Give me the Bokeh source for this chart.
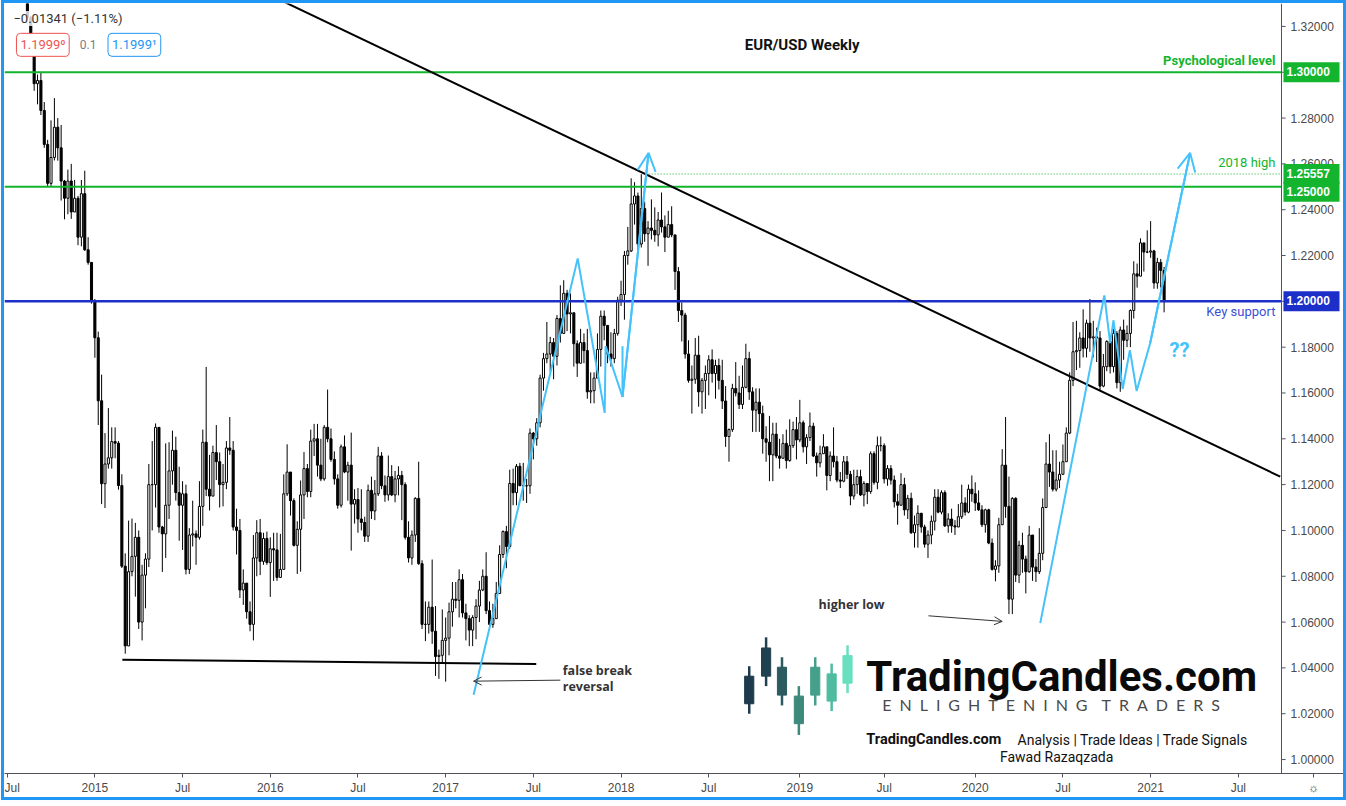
import pandas as pd
from bokeh.plotting import figure
from bokeh.models import (Range1d, FixedTicker, CustomJSTickFormatter, NumeralTickFormatter,
                          Span, Label, Arrow, OpenHead, ColumnDataSource)
from bokeh.embed import file_html
from bokeh.resources import INLINE

# ---------------- data: EUR/USD weekly candles ----------------
first_week = "2014-08-18"
first_open = 1.3390

closes = [
    # 2014
    1.3240, 1.3131, 1.2950, 1.2964, 1.2833, 1.2685, 1.2515, 1.2628, 1.2760, 1.2670,
    1.2525, 1.2450, 1.2525, 1.2390, 1.2450, 1.2280, 1.2470, 1.2225, 1.2170, 1.2000,
    # 2015
    1.1841, 1.1566, 1.1204, 1.1290, 1.1317, 1.1388, 1.1381, 1.1196, 1.0844, 1.0496,
    1.0820, 1.0887, 1.0970, 1.0600, 1.0805, 1.0875, 1.1200, 1.1200, 1.1450, 1.1015,
    1.0985, 1.1110, 1.1260, 1.1350, 1.1165, 1.1110, 1.1160, 1.0830, 1.0980, 1.0985,
    1.0970, 1.1105, 1.1385, 1.1180, 1.1150, 1.1340, 1.1300, 1.1200, 1.1210, 1.1360,
    1.1350, 1.1015, 1.1000, 1.0740, 1.0770, 1.0645, 1.0590, 1.0880, 1.0990, 1.0865,
    1.0965, 1.0860,
    # 2016
    1.0920, 1.0915, 1.0795, 1.0830, 1.1160, 1.1255, 1.1130, 1.0935, 1.1005, 1.1155,
    1.1270, 1.1170, 1.1390, 1.1400, 1.1285, 1.1225, 1.1450, 1.1400, 1.1310, 1.1225,
    1.1110, 1.1365, 1.1255, 1.1285, 1.1115, 1.1135, 1.1050, 1.1035, 1.0975, 1.1175,
    1.1085, 1.1160, 1.1325, 1.1195, 1.1155, 1.1235, 1.1155, 1.1225, 1.1240, 1.1200,
    1.0970, 1.0880, 1.0980, 1.1140, 1.0855, 1.0590, 1.0590, 1.0665, 1.0560, 1.0450,
    1.0455, 1.0520,
    # 2017
    1.0530, 1.0645, 1.0700, 1.0695, 1.0785, 1.0640, 1.0615, 1.0565, 1.0620, 1.0670,
    1.0740, 1.0800, 1.0650, 1.0590, 1.0615, 1.0725, 1.0895, 1.0995, 1.0930, 1.1205,
    1.1165, 1.1280, 1.1195, 1.1195, 1.1195, 1.1425, 1.1400, 1.1470, 1.1665, 1.1750,
    1.1770, 1.1820, 1.1760, 1.1925, 1.1860, 1.2035, 1.1945, 1.1950, 1.1815, 1.1730,
    1.1820, 1.1785, 1.1605, 1.1610, 1.1665, 1.1790, 1.1935, 1.1895, 1.1770, 1.1750,
    1.1860, 1.2005,
    # 2018
    1.2030, 1.2200, 1.2220, 1.2425, 1.2460, 1.2250, 1.2405, 1.2295, 1.2320, 1.2310,
    1.2290, 1.2355, 1.2325, 1.2280, 1.2335, 1.2290, 1.2130, 1.1960, 1.1940, 1.1770,
    1.1655, 1.1660, 1.1765, 1.1605, 1.1655, 1.1685, 1.1745, 1.1685, 1.1720, 1.1655,
    1.1565, 1.1410, 1.1440, 1.1620, 1.1600, 1.1550, 1.1625, 1.1750, 1.1605, 1.1525,
    1.1560, 1.1510, 1.1400, 1.1385, 1.1330, 1.1420, 1.1325, 1.1315, 1.1380, 1.1305,
    1.1370, 1.1440, 1.1395,
    # 2019
    1.1470, 1.1365, 1.1405, 1.1455, 1.1325, 1.1295, 1.1335, 1.1365, 1.1240, 1.1325,
    1.1300, 1.1220, 1.1215, 1.1300, 1.1245, 1.1150, 1.1200, 1.1235, 1.1155, 1.1205,
    1.1170, 1.1335, 1.1210, 1.1370, 1.1370, 1.1225, 1.1270, 1.1220, 1.1125, 1.1110,
    1.1200, 1.1090, 1.1140, 1.0990, 1.1025, 1.1075, 1.1015, 1.0940, 1.0980, 1.1040,
    1.1145, 1.1080, 1.1165, 1.1020, 1.1050, 1.1020, 1.1015, 1.1060, 1.1120, 1.1080,
    1.1180, 1.1160,
    # 2020
    1.1120, 1.1090, 1.1025, 1.1090, 1.0945, 1.0830, 1.0845, 1.1025, 1.1285, 1.1105,
    1.0700, 1.1140, 1.0805, 1.0935, 1.0875, 1.0820, 1.0980, 1.0840, 1.0820, 1.0900,
    1.1100, 1.1290, 1.1255, 1.1180, 1.1220, 1.1245, 1.1300, 1.1425, 1.1655, 1.1780,
    1.1785, 1.1840, 1.1795, 1.1905, 1.1840, 1.1845, 1.1840, 1.1630, 1.1715, 1.1825,
    1.1715, 1.1860, 1.1645, 1.1875, 1.1830, 1.1860, 1.1960, 1.2120, 1.2110, 1.2255,
    1.2215, 1.2215,
    # 2021
    1.2220, 1.2080, 1.2170, 1.2135, 1.1999,
]

highs = [
    # 2014
    1.3395, 1.3245, 1.3160, 1.2990, 1.3000, 1.2870, 1.2705, 1.2790, 1.2887, 1.2800,
    1.2770, 1.2530, 1.2575, 1.2600, 1.2530, 1.2460, 1.2530, 1.2570, 1.2280, 1.2170,
    # 2015
    1.2010, 1.1868, 1.1680, 1.1425, 1.1534, 1.1450, 1.1450, 1.1390, 1.1245, 1.0900,
    1.1043, 1.1052, 1.1033, 1.1000, 1.0850, 1.0900, 1.1290, 1.1390, 1.1467, 1.1440,
    1.1020, 1.1380, 1.1385, 1.1436, 1.1409, 1.1278, 1.1215, 1.1200, 1.1010, 1.1130,
    1.1000, 1.1215, 1.1440, 1.1714, 1.1330, 1.1370, 1.1460, 1.1340, 1.1290, 1.1390,
    1.1495, 1.1390, 1.1095, 1.1050, 1.0830, 1.0760, 1.0690, 1.0980, 1.1045, 1.1050,
    1.0990, 1.0995,
    # 2016
    1.0970, 1.0990, 1.0990, 1.0985, 1.1245, 1.1376, 1.1220, 1.1140, 1.1040, 1.1218,
    1.1342, 1.1290, 1.1440, 1.1465, 1.1465, 1.1400, 1.1460, 1.1615, 1.1445, 1.1345,
    1.1245, 1.1375, 1.1415, 1.1300, 1.1427, 1.1180, 1.1185, 1.1180, 1.1060, 1.1200,
    1.1235, 1.1220, 1.1365, 1.1342, 1.1240, 1.1327, 1.1285, 1.1260, 1.1280, 1.1260,
    1.1210, 1.1040, 1.1000, 1.1145, 1.1300, 1.0870, 1.0690, 1.0690, 1.0873, 1.0670,
    1.0480, 1.0655,
    # 2017
    1.0620, 1.0685, 1.0775, 1.0775, 1.0830, 1.0810, 1.0680, 1.0630, 1.0630, 1.0700,
    1.0780, 1.0830, 1.0905, 1.0690, 1.0680, 1.0775, 1.0935, 1.1000, 1.1020, 1.1265,
    1.1270, 1.1290, 1.1295, 1.1295, 1.1225, 1.1445, 1.1430, 1.1490, 1.1680, 1.1775,
    1.1910, 1.1845, 1.1840, 1.1940, 1.2070, 1.2092, 1.2050, 1.2035, 1.1945, 1.1830,
    1.1880, 1.1860, 1.1880, 1.1690, 1.1690, 1.1860, 1.1960, 1.1960, 1.1880, 1.1865,
    1.1880, 1.2020,
    # 2018
    1.2090, 1.2220, 1.2325, 1.2537, 1.2520, 1.2475, 1.2555, 1.2435, 1.2350, 1.2445,
    1.2410, 1.2390, 1.2475, 1.2375, 1.2395, 1.2415, 1.2290, 1.2150, 1.1995, 1.1950,
    1.1830, 1.1720, 1.1840, 1.1850, 1.1665, 1.1720, 1.1765, 1.1790, 1.1745, 1.1750,
    1.1745, 1.1630, 1.1445, 1.1640, 1.1735, 1.1675, 1.1720, 1.1815, 1.1780, 1.1625,
    1.1620, 1.1620, 1.1545, 1.1455, 1.1500, 1.1470, 1.1470, 1.1400, 1.1420, 1.1440,
    1.1485, 1.1475, 1.1495,
    # 2019
    1.1570, 1.1480, 1.1420, 1.1515, 1.1470, 1.1340, 1.1370, 1.1420, 1.1355, 1.1345,
    1.1450, 1.1325, 1.1255, 1.1325, 1.1325, 1.1260, 1.1265, 1.1265, 1.1265, 1.1215,
    1.1205, 1.1345, 1.1345, 1.1410, 1.1410, 1.1380, 1.1285, 1.1285, 1.1240, 1.1160,
    1.1250, 1.1230, 1.1155, 1.1165, 1.1065, 1.1110, 1.1075, 1.1025, 1.1000, 1.1065,
    1.1180, 1.1180, 1.1175, 1.1175, 1.1075, 1.1095, 1.1045, 1.1115, 1.1200, 1.1145,
    1.1200, 1.1240,
    # 2020
    1.1210, 1.1175, 1.1110, 1.1095, 1.1095, 1.0965, 1.0870, 1.1055, 1.1355, 1.1495,
    1.1235, 1.1145, 1.1145, 1.0955, 1.0990, 1.0890, 1.1020, 1.0980, 1.0875, 1.1010,
    1.1140, 1.1385, 1.1420, 1.1350, 1.1350, 1.1300, 1.1375, 1.1450, 1.1690, 1.1910,
    1.1915, 1.1865, 1.1965, 1.1920, 1.2010, 1.1915, 1.1885, 1.1870, 1.1770, 1.1830,
    1.1810, 1.1880, 1.1870, 1.1890, 1.1920, 1.1895, 1.1965, 1.2175, 1.2165, 1.2275,
    1.2250, 1.2310,
    # 2021
    1.2350, 1.2225, 1.2190, 1.2185, 1.2150,
]

lows = [
    # 2014
    1.3225, 1.3130, 1.2919, 1.2860, 1.2813, 1.2670, 1.2500, 1.2501, 1.2615, 1.2614,
    1.2440, 1.2358, 1.2380, 1.2360, 1.2390, 1.2245, 1.2240, 1.2220, 1.2160, 1.1990,
    # 2015
    1.1754, 1.1460, 1.1115, 1.1098, 1.1270, 1.1270, 1.1315, 1.1178, 1.0836, 1.0462,
    1.0520, 1.0800, 1.0711, 1.0570, 1.0520, 1.0660, 1.0840, 1.1000, 1.1100, 1.0990,
    1.0819, 1.0880, 1.1050, 1.1200, 1.1130, 1.0955, 1.0915, 1.0808, 1.0810, 1.0930,
    1.0850, 1.0960, 1.1020, 1.1150, 1.1087, 1.1150, 1.1220, 1.1100, 1.1105, 1.1180,
    1.1330, 1.1000, 1.0895, 1.0705, 1.0675, 1.0615, 1.0560, 1.0520, 1.0800, 1.0805,
    1.0850, 1.0850,
    # 2016
    1.0710, 1.0780, 1.0780, 1.0810, 1.0835, 1.1150, 1.1065, 1.0930, 1.0810, 1.0820,
    1.1050, 1.1145, 1.1145, 1.1325, 1.1235, 1.1215, 1.1217, 1.1385, 1.1300, 1.1200,
    1.1095, 1.1100, 1.1250, 1.1130, 1.0912, 1.1030, 1.0990, 1.1000, 1.0950, 1.0950,
    1.1050, 1.1045, 1.1150, 1.1180, 1.1125, 1.1130, 1.1150, 1.1123, 1.1153, 1.1045,
    1.0960, 1.0860, 1.0850, 1.0950, 1.0850, 1.0570, 1.0517, 1.0550, 1.0505, 1.0365,
    1.0352, 1.0420,
    # 2017
    1.0340, 1.0455, 1.0580, 1.0660, 1.0620, 1.0620, 1.0520, 1.0495, 1.0495, 1.0525,
    1.0600, 1.0735, 1.0635, 1.0570, 1.0575, 1.0640, 1.0820, 1.0880, 1.0835, 1.0920,
    1.1110, 1.1110, 1.1195, 1.1130, 1.1120, 1.1160, 1.1310, 1.1370, 1.1450, 1.1610,
    1.1730, 1.1690, 1.1660, 1.1720, 1.1820, 1.1860, 1.1870, 1.1860, 1.1715, 1.1670,
    1.1730, 1.1730, 1.1575, 1.1555, 1.1555, 1.1710, 1.1715, 1.1830, 1.1730, 1.1715,
    1.1730, 1.1850,
    # 2018
    1.1980, 1.1920, 1.2160, 1.2215, 1.2335, 1.2205, 1.2235, 1.2260, 1.2155, 1.2270,
    1.2260, 1.2240, 1.2300, 1.2215, 1.2300, 1.2280, 1.2050, 1.1910, 1.1825, 1.1750,
    1.1645, 1.1510, 1.1640, 1.1540, 1.1510, 1.1530, 1.1590, 1.1645, 1.1575, 1.1615,
    1.1530, 1.1365, 1.1300, 1.1430, 1.1585, 1.1530, 1.1530, 1.1620, 1.1570, 1.1430,
    1.1430, 1.1430, 1.1335, 1.1300, 1.1215, 1.1215, 1.1315, 1.1270, 1.1320, 1.1270,
    1.1300, 1.1360, 1.1310,
    # 2019
    1.1385, 1.1340, 1.1290, 1.1390, 1.1320, 1.1235, 1.1275, 1.1340, 1.1175, 1.1215,
    1.1275, 1.1210, 1.1185, 1.1210, 1.1225, 1.1110, 1.1135, 1.1160, 1.1150, 1.1105,
    1.1115, 1.1160, 1.1200, 1.1180, 1.1345, 1.1205, 1.1195, 1.1200, 1.1100, 1.1025,
    1.1110, 1.1065, 1.1050, 1.0985, 1.0925, 1.0925, 1.0990, 1.0925, 1.0880, 1.0940,
    1.1000, 1.1075, 1.1070, 1.1015, 1.0990, 1.0990, 1.0980, 1.1015, 1.1050, 1.1065,
    1.1075, 1.1125,
    # 2020
    1.1085, 1.1085, 1.1015, 1.0990, 1.0940, 1.0825, 1.0778, 1.0815, 1.1050, 1.1055,
    1.0635, 1.0635, 1.0775, 1.0770, 1.0815, 1.0725, 1.0815, 1.0780, 1.0775, 1.0810,
    1.0870, 1.1100, 1.1190, 1.1170, 1.1170, 1.1185, 1.1260, 1.1370, 1.1420, 1.1630,
    1.1700, 1.1710, 1.1755, 1.1755, 1.1780, 1.1755, 1.1735, 1.1610, 1.1625, 1.1695,
    1.1685, 1.1690, 1.1620, 1.1605, 1.1745, 1.1800, 1.1800, 1.1925, 1.2060, 1.2110,
    1.2130, 1.2210,
    # 2021
    1.2190, 1.2055, 1.2055, 1.2060, 1.1952,
]

# axis ticks / labels (last entry: the settings glyph of the corner cell)
x_tick_dates = ["2014-07-07", "2015-01-05", "2015-07-06", "2016-01-04", "2016-07-04",
                "2017-01-02", "2017-07-03", "2018-01-01", "2018-07-02", "2019-01-07",
                "2019-07-01", "2020-01-06", "2020-07-06", "2021-01-04", "2021-07-05",
                "2021-12-08"]
x_tick_labels = ["Jul", "2015", "Jul", "2016", "Jul", "2017", "Jul", "2018", "Jul", "2019",
                 "Jul", "2020", "Jul", "2021", "Jul", "\u263c"]
y_ticks = [1.00, 1.02, 1.04, 1.06, 1.08, 1.10, 1.12, 1.14, 1.16, 1.18, 1.20, 1.22,
           1.24, 1.26, 1.28, 1.30, 1.32]

# key levels
psych_level = 1.30
level_125 = 1.25
high_2018 = 1.25557
key_support = 1.20

# drawn annotations (date, price)
trend_dates = ["2015-12-14", "2021-09-30"]
trend_prices = [1.3357, 1.12348]
support_dates = ["2015-03-03", "2017-07-09"]
support_prices = [1.0436, 1.0417]
zz_left_dates = ["2017-03-01", "2017-10-03", "2017-11-28", "2017-11-30", "2018-01-04", "2018-02-27"]
zz_left_prices = [1.02826, 1.21870, 1.15130, 1.18043, 1.15826, 1.26478]
zz_left_spike_dates = ["2018-01-04", "2018-01-04"]
zz_left_spike_prices = [1.15826, 1.18043]
zz_right_dates = ["2020-05-20", "2020-09-30", "2020-10-12", "2020-10-19", "2020-11-07",
                  "2020-11-22", "2020-12-06", "2021-01-03", "2021-03-27"]
zz_right_prices = [1.05957, 1.20261, 1.18174, 1.19174, 1.16174, 1.17870, 1.16087,
                   1.18174, 1.26478]

# logo candles (decoration)
logo_dates = ["2018-09-24", "2018-10-29", "2018-12-01", "2019-01-05", "2019-02-08", "2019-03-14", "2019-04-16"]
logo_wick_top = [1.04074, 1.05335, 1.04465, 1.03204, 1.04465, 1.04187, 1.04987]
logo_wick_bot = [1.02000, 1.03204, 1.02361, 1.01074, 1.02361, 1.02117, 1.02900]
logo_body_top = [1.03639, 1.04870, 1.04030, 1.02770, 1.04030, 1.03739, 1.04535]
logo_body_bot = [1.02435, 1.03639, 1.02813, 1.01565, 1.02813, 1.02552, 1.03335]
logo_colors = ["#1d3b4c", "#1f4150", "#2b5a60", "#3d8a7b", "#45a08b", "#4fbca0", "#68dfbe"]

# ---------------- build ----------------
def ms(d):
    return pd.Timestamp(d).value / 1e6

DAY = 86400000.0
n = min(len(closes), len(highs), len(lows))
dates = pd.date_range(first_week, periods=n, freq="7D")
opens = [first_open] + closes[:n - 1]
hi = [max(h, o, c) for h, o, c in zip(highs[:n], opens, closes[:n])]
lo = [min(l, o, c) for l, o, c in zip(lows[:n], opens, closes[:n])]
x = [ms(d) for d in dates]
top = [max(o, c) for o, c in zip(opens, closes[:n])]
bot = [min(o, c) for o, c in zip(opens, closes[:n])]
up = [c >= o for o, c in zip(opens, closes[:n])]

src_up = ColumnDataSource(dict(x=[a for a, u in zip(x, up) if u],
                               top=[a for a, u in zip(top, up) if u],
                               bot=[a for a, u in zip(bot, up) if u]))
src_dn = ColumnDataSource(dict(x=[a for a, u in zip(x, up) if not u],
                               top=[a for a, u in zip(top, up) if not u],
                               bot=[a for a, u in zip(bot, up) if not u]))
src_w = ColumnDataSource(dict(x=x, hi=hi, lo=lo))

base = pd.Timestamp("2014-12-29")
x_start = ms(base - pd.Timedelta(days=180.55))
x_end = ms(base + pd.Timedelta(days=2598.3))      # frame runs under the price scale
x_sep = ms(base + pd.Timedelta(days=2469.6))      # chart / price-scale separator
x_box = ms(base + pd.Timedelta(days=2473.7))      # left edge of price-scale boxes

p = figure(width=1339, height=794, x_axis_type="datetime", y_axis_location="right",
           x_range=Range1d(x_start, x_end), y_range=Range1d(0.99391, 1.33000),
           output_backend="svg", toolbar_location=None, tools="",
           min_border_left=0, min_border_top=0, min_border_right=0, min_border_bottom=21)
p.styles = {"margin-left": "4px", "margin-top": "3px", "outline": "3px solid #2196f3"}
p.outline_line_color = None
p.xgrid.grid_line_color = None
p.ygrid.grid_line_color = None
p.background_fill_color = "white"
p.border_fill_color = "white"

AX = "#50535e"
p.yaxis.ticker = FixedTicker(ticks=y_ticks)
p.yaxis.formatter = NumeralTickFormatter(format="0.00000")
p.xaxis.ticker = FixedTicker(ticks=[ms(d) for d in x_tick_dates])
p.xaxis.formatter = CustomJSTickFormatter(
    args=dict(t=[ms(d) for d in x_tick_dates], l=x_tick_labels),
    code="const i = t.indexOf(tick); return i < 0 ? '' : l[i];")
for ax in (p.xaxis[0], p.yaxis[0]):
    ax.axis_line_color = AX
    ax.major_tick_line_color = AX
    ax.major_tick_in = 0
    ax.major_tick_out = 4
    ax.minor_tick_line_color = None
    ax.major_label_text_color = "#4a4a4a"
    ax.major_label_text_font = "Liberation Sans"
    ax.major_label_text_font_size = "12px"
    ax.major_label_standoff = 4
p.xaxis[0].major_label_standoff = 3
# price labels are drawn to the right of the separator, inside the frame strip
p.yaxis[0].axis_line_color = None
p.yaxis[0].major_tick_out = 0
p.yaxis[0].major_tick_line_color = None
p.yaxis[0].major_label_standoff = -53

GREEN = "#13b52f"
BLUE = "#1c2fc8"
LBLUE = "#45c2fa"

# separator + price-scale tick marks
p.add_layout(Span(location=x_sep, dimension="height", line_color=AX, line_width=1))
p.segment(x0=[x_sep] * len(y_ticks), y0=y_ticks, x1=[x_sep + 8.5 * DAY] * len(y_ticks),
          y1=y_ticks, line_color=AX, line_width=1)

# candles
p.segment(x0="x", y0="lo", x1="x", y1="hi", source=src_w, line_color="black", line_width=1)
W = 4.3 * DAY
p.vbar(x="x", top="top", bottom="bot", width=W, source=src_dn,
       fill_color="black", line_color="black", line_width=1)
p.vbar(x="x", top="top", bottom="bot", width=W, source=src_up,
       fill_color="white", line_color="black", line_width=1)

# levels (stop at the price scale)
p.line([x_start, x_sep], [psych_level, psych_level], line_color=GREEN, line_width=2)
p.line([x_start, x_sep], [level_125, level_125], line_color=GREEN, line_width=2)
p.line([x_start, x_sep], [key_support, key_support], line_color=BLUE, line_width=2.5)
p.line([ms("2018-02-21"), x_sep], [high_2018, high_2018], line_color=GREEN,
       line_width=1, line_dash="1 2")

# trend lines
p.line([ms(d) for d in trend_dates], trend_prices, line_color="black", line_width=2)
p.line([ms(d) for d in support_dates], support_prices, line_color="black", line_width=2)

# light blue zig-zags with arrow heads
for ds, ps in ((zz_left_dates, zz_left_prices), (zz_right_dates, zz_right_prices)):
    xs = [ms(d) for d in ds]
    p.line(xs, ps, line_color=LBLUE, line_width=2)
    p.add_layout(Arrow(end=OpenHead(size=18, line_color=LBLUE, line_width=2),
                       x_start=xs[-2], y_start=ps[-2], x_end=xs[-1], y_end=ps[-1],
                       line_color=LBLUE, line_width=2))
p.line([ms(d) for d in zz_left_spike_dates], zz_left_spike_prices, line_color=LBLUE, line_width=2)

# thin pointer arrows
p.add_layout(Arrow(end=OpenHead(size=8, line_color="#333333", line_width=1),
                   x_start=ms("2019-10-01"), y_start=1.06274,
                   x_end=ms("2020-03-02"), y_end=1.06030,
                   line_color="#333333", line_width=1))
p.add_layout(Arrow(end=OpenHead(size=8, line_color="#333333", line_width=1),
                   x_start=ms("2017-08-28"), y_start=1.03465,
                   x_end=ms("2017-03-01"), y_end=1.03422,
                   line_color="#333333", line_width=1))

# logo candles
logo_x = [ms(d) for d in logo_dates]
p.segment(x0=logo_x, y0=logo_wick_bot, x1=logo_x, y1=logo_wick_top,
          line_color=logo_colors, line_width=2.5)
p.vbar(x=logo_x, top=logo_body_top, bottom=logo_body_bot, width=19.0 * DAY,
       fill_color=logo_colors, line_color=logo_colors)

def lab(text, x, y, **kw):
    opts = dict(text_font="Roboto", text_font_size="12px", text_color="#222222",
                text_baseline="middle", text_align="left")
    opts.update(kw)
    xv = x if isinstance(x, float) else ms(x)
    p.add_layout(Label(x=xv, y=y, text=text, **opts))

# text annotations
lab("EUR/USD Weekly", "2019-01-12", 1.31174, text_font_style="bold", text_font_size="15px",
    text_align="center", text_color="#111111")
lab("Psychological level", "2021-09-20", 1.30522, text_align="right", text_color=GREEN,
    text_font_style="bold", text_font_size="13px")
lab("2018 high", "2021-09-20", 1.26043, text_align="right", text_color=GREEN, text_font_size="13px")
lab("Key support", "2021-09-20", 1.19543, text_align="right", text_color="#3e4fd4", text_font_size="13px")
lab("??", "2021-03-05", 1.1787, text_align="center", text_color=LBLUE, text_font_style="bold",
    text_font_size="20px")
lab("higher low", "2019-02-15", 1.06783, text_font_style="bold", text_font="Open Sans",
    text_color="#333333", text_font_size="12.5px")
lab("false break", "2017-09-02", 1.03891, text_font_style="bold", text_font="Open Sans",
    text_color="#333333", text_font_size="12.5px")
lab("reversal", "2017-09-02", 1.03174, text_font_style="bold", text_font="Open Sans",
    text_color="#333333", text_font_size="12.5px")

# header (legend-like)
lab("\u22120.01341 (\u22121.11%)", "2014-07-20", 1.32348, text_font_size="13px",
    text_color="#333333", background_fill_color="white", background_fill_alpha=0.8)
lab("1.1999\u2070", "2014-09-19", 1.31196, text_align="center", text_color="#ef5350",
    text_font_size="13px", background_fill_color="white", border_line_color="#ef5350",
    padding=4, border_radius=4)
lab("0.1", "2014-12-22", 1.31196, text_align="center", text_color="#787b86", text_font_size="12px")
lab("1.1999\u00b9", "2015-03-28", 1.31196, text_align="center", text_color="#2196f3",
    text_font_size="13px", background_fill_color="white", border_line_color="#2196f3",
    padding=4, border_radius=4)

# price-scale boxes
for txt, lvl, col, off in (("1.30000", psych_level, GREEN, 0), ("1.25557", high_2018, GREEN, 0),
                           ("1.25000", level_125, GREEN, -5), ("1.20000", key_support, BLUE, 0)):
    lab(" " + txt + " ", x_box, lvl, text_color="white", text_font_style="bold",
        text_font="Liberation Sans", text_font_size="12px", background_fill_color=col,
        padding=3, y_offset=off)

# logo texts
lab("TradingCandles.com", "2019-05-25", 1.03609, text_baseline="alphabetic",
    text_font="Roboto", text_font_style="bold", text_font_size="42px",
    text_color="#0a0a0a")
enl = "\u2002".join("ENLIGHTENING") + "\u2003\u2009" + "\u2002".join("TRADERS")
lab(enl, "2019-06-27", 1.02391, text_font="Lato", text_font_size="16px", text_color="#4a4a4a")
lab("TradingCandles.com", "2019-05-25", 1.0087, text_font="Roboto",
    text_font_style="bold", text_font_size="14.5px", text_color="#111111")
lab("Analysis | Trade Ideas | Trade Signals", "2020-04-03", 1.0087,
    text_font="Roboto", text_font_size="14px", text_color="#111111")
lab("Fawad Razaqzada", "2020-06-23", 1.0013, text_align="center",
    text_font="Roboto", text_font_size="14px", text_color="#111111")

open("out.html", "w").write(file_html(p, INLINE))
